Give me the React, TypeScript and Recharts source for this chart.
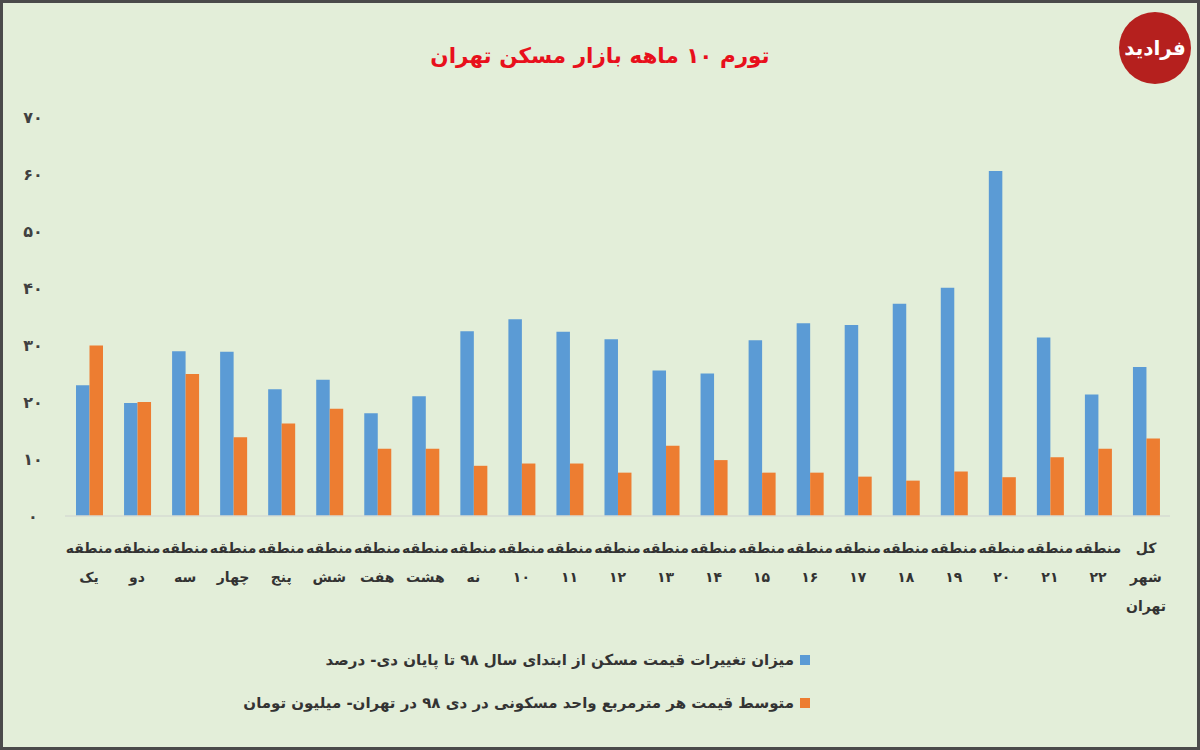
import { BarChart, Bar, XAxis, YAxis } from "recharts"

const regions = [
  "یک", "دو", "سه", "چهار", "پنج", "شش", "هفت", "هشت", "نه", "۱۰", "۱۱",
  "۱۲", "۱۳", "۱۴", "۱۵", "۱۶", "۱۷", "۱۸", "۱۹", "۲۰", "۲۱", "۲۲", "کل شهر تهران",
]

// blue: price change since start of 98 (percent)
const priceChange = [
  22.9, 19.8, 28.9, 28.8, 22.2, 23.9, 18.0, 21.0, 32.4, 34.5, 32.3,
  31.0, 25.5, 25.0, 30.8, 33.8, 33.5, 37.2, 40.0, 60.5, 31.3, 21.3, 26.1,
]

// orange: average price per m2 (million toman)
const avgPrice = [
  29.9, 20.0, 24.9, 13.8, 16.2, 18.8, 11.8, 11.8, 8.8, 9.2, 9.2,
  7.6, 12.3, 9.8, 7.6, 7.6, 6.9, 6.2, 7.8, 6.8, 10.3, 11.8, 13.6,
]

const yTicks = [0, 10, 20, 30, 40, 50, 60, 70]
const faDigits = "۰۱۲۳۴۵۶۷۸۹"

const title = "تورم ۱۰ ماهه بازار مسکن تهران"
const legendBlue = "میزان تغییرات قیمت مسکن از ابتدای سال ۹۸ تا پایان دی- درصد"
const legendOrange = "متوسط قیمت هر مترمربع واحد مسکونی در دی ۹۸ در تهران- میلیون تومان"

const BLUE = "#5b9bd5"
const ORANGE = "#ed7d31"
const FONT = "'DejaVu Sans', sans-serif"

const data = regions.map((r, i) => ({
  name: i === regions.length - 1 ? r : "منطقه " + r,
  change: priceChange[i],
  price: avgPrice[i],
}))

const toFa = (n: number) => String(n).replace(/\d/g, (d) => faDigits[Number(d)])

function labelLines(i: number) {
  if (i === regions.length - 1) return regions[i].split(" ")
  return ["منطقه", regions[i]]
}

const XTick = (props: any) => {
  const { x, y, payload } = props
  const lines = labelLines(payload.index)
  return (
    <g>
      {lines.map((l, k) => (
        <text key={k} x={x} y={y + 37 + k * 29} textAnchor="middle" fill="#333"
          fontFamily={FONT} fontWeight="bold" fontSize={14}>
          {l}
        </text>
      ))}
    </g>
  )
}

const YTick = (props: any) => {
  const { y, payload } = props
  return (
    <text x={33} y={y + 6} textAnchor="middle" fill="#404040"
      fontFamily={FONT} fontWeight="bold" fontSize={16}>
      {toFa(payload.value)}
    </text>
  )
}

export default function App() {
  return (
    <div style={{ position: "absolute", left: 0, top: 0, width: 1200, height: 750, background: "#e3eed9", overflow: "hidden" }}>
      <div style={{
        position: "absolute", top: 43, left: 0, width: 1200, textAlign: "center", direction: "rtl",
        color: "#e8101c", fontFamily: FONT, fontWeight: "bold", fontSize: 21.5,
      }}>
        {title}
      </div>

      <div style={{ position: "absolute", left: 1119, top: 12, width: 72, height: 72, borderRadius: "50%", background: "#b5201e",
        color: "#fff", fontFamily: FONT, fontWeight: "bold", fontSize: 20, display: "flex", alignItems: "center", justifyContent: "center" }}>
        <span style={{ direction: "rtl" }}>فرادید</span>
      </div>

      <div style={{ position: "absolute", left: 0, top: 0 }}>
        <BarChart width={1200} height={750} data={data}
          margin={{ top: 116.7, right: 30, bottom: 174, left: 25 }} barGap={0} barSize={13.5}>
          <XAxis dataKey="name" interval={0} height={60} tickLine={false} tickSize={0} tickMargin={0}
            axisLine={{ stroke: "#d6dbd2", strokeWidth: 1.5 }} tick={<XTick />} />
          <YAxis domain={[0, 70]} ticks={yTicks} width={40} axisLine={false} tickLine={false} tick={<YTick />} />
          <Bar dataKey="change" fill={BLUE} isAnimationActive={false} />
          <Bar dataKey="price" fill={ORANGE} isAnimationActive={false} />
        </BarChart>
      </div>

      {[{ text: legendBlue, color: BLUE, top: 651 }, { text: legendOrange, color: ORANGE, top: 694 }].map((e, i) => (
        <div key={i} style={{ position: "absolute", top: e.top, right: 1200 - 810, display: "flex", alignItems: "center", gap: 6 }}>
          <div style={{ direction: "rtl", color: "#333", fontFamily: FONT, fontWeight: "bold", fontSize: 15, whiteSpace: "nowrap" }}>
            {e.text}
          </div>
          <div style={{ width: 10, height: 10, background: e.color }} />
        </div>
      ))}

      <div style={{ position: "absolute", left: 0, top: 0, width: 1200, height: 750, boxSizing: "border-box",
        border: "3px solid #4a4a4a", pointerEvents: "none" }} />
    </div>
  )
}
